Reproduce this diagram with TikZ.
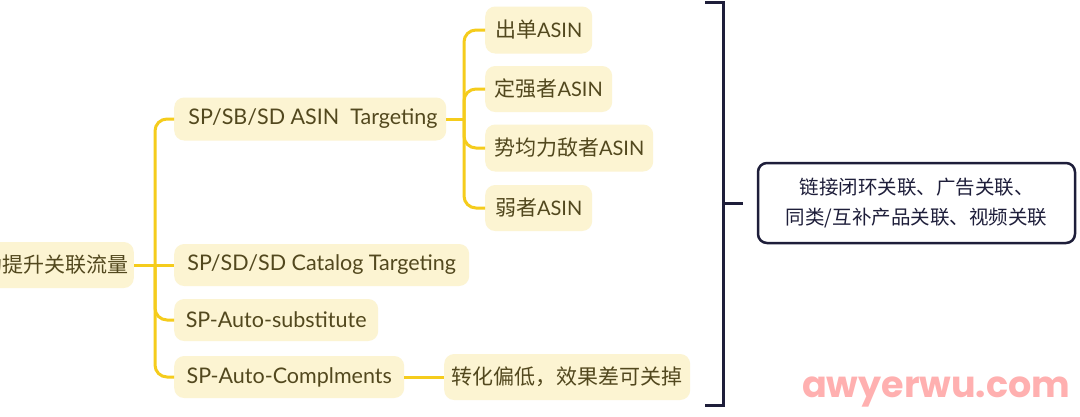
\documentclass[tikz,border=0pt]{standalone}
\usepackage{fontspec}
\setmainfont{Lato}
\newfontfamily\cjk{Noto Sans CJK SC}
\newfontfamily\wmfont{Poppins}
\usetikzlibrary{calc}
\definecolor{nodefill}{RGB}{252,244,210}
\definecolor{linegold}{RGB}{245,204,28}
\definecolor{txtolive}{RGB}{82,72,30}
\definecolor{navy}{RGB}{30,30,58}
\definecolor{wmpink}{RGB}{255,176,176}
\tikzset{
  ynode/.style={fill=nodefill, rounded corners=10pt, text=txtolive, inner sep=0pt, font=\fontsize{20}{24}\selectfont},
  lnode/.style={ynode, font=\fontsize{21.5}{24}\selectfont},
  conn/.style={draw=linegold, line width=3pt, rounded corners=12pt},
  bracketline/.style={draw=navy, line width=3pt},
  sumbox/.style={draw=navy, line width=2.5pt, rounded corners=9pt, fill=white, text=navy, align=center, inner sep=0pt, font=\cjk\fontsize{19.5}{30}\selectfont}
}
\begin{document}
\begin{tikzpicture}[x=1pt,y=-1pt]
\useasboundingbox[fill=white] (0,0) rectangle (1080,416);

% root (partly off the left edge)
\node[ynode, anchor=east, minimum width=180pt, minimum height=46pt, text width=170pt, align=right] (root) at (134,265) {\cjk\fontsize{21}{24}\selectfont 助提升关联流量};

% level 1
\node[lnode, anchor=west, minimum width=272pt, minimum height=43pt] (a1) at (174,119) {\ SP/SB/SD ASIN\ \ Targeting};
\node[lnode, anchor=west, minimum width=295pt, minimum height=42pt] (a2) at (174,265) {SP/SD/SD Catalog Targeting};
\node[lnode, anchor=west, minimum width=204pt, minimum height=42pt] (a3) at (174,320) {SP-Auto-substitute};
\node[lnode, anchor=west, minimum width=230pt, minimum height=42pt] (a4) at (174,377) {SP-Auto-Complments};
\node[ynode, anchor=west, minimum width=246pt, minimum height=46pt] (c1) at (444,377) {\cjk\fontsize{21}{24}\selectfont 转化偏低，效果差可关掉};

% level 2
\node[ynode, anchor=west, minimum width=107pt, minimum height=47pt] (b1) at (485,30) {{\cjk\fontsize{21}{24}\selectfont 出单}ASIN};
\node[ynode, anchor=west, minimum width=127pt, minimum height=46pt] (b2) at (485,89) {{\cjk\fontsize{21}{24}\selectfont 定强者}ASIN};
\node[ynode, anchor=west, minimum width=168pt, minimum height=47pt] (b3) at (485,148) {{\cjk\fontsize{21}{24}\selectfont 势均力敌者}ASIN};
\node[ynode, anchor=west, minimum width=107pt, minimum height=46pt] (b4) at (485,208) {{\cjk\fontsize{21}{24}\selectfont 弱者}ASIN};

% summary box
\node[sumbox, minimum width=317pt, minimum height=80pt] (sum) at (916.5,203) {链接闭环关联、广告关联、\\同类/互补产品关联、视频关联};

% trunk coordinates
\coordinate (t1) at (155,265);
\coordinate (t2) at (464,119);

% level-1 connectors
\draw[conn] (a1.west) -- (a1.west -| t1) -- (a4.west -| t1) -- (a4.west);
\draw[conn, rounded corners=0pt] (root.east) -- (a2.west);
\draw[conn] (t1) |- (a3.west);
\draw[conn, rounded corners=0pt] (a4.east) -- (c1.west);

% level-2 connectors
\draw[conn, rounded corners=0pt] (a1.east) -- (t2);
\draw[conn] (b1.west) -- (b1.west -| t2) -- (b4.west -| t2) -- (b4.west);
\draw[conn] (t2) |- (b2.west);
\draw[conn] (t2) |- (b3.west);

% bracket
\coordinate (brtop) at (705,2.5);
\coordinate (brbot) at (705,405);
\coordinate (brtip) at (743,203);
\draw[bracketline] (brtop) -- (723,2.5) -- (723,405) -- (brbot);
\draw[bracketline] (723,203) -- (brtip);

% watermark
\node[anchor=base west, text=wmpink, inner sep=0pt, font=\wmfont\bfseries\fontsize{36.5}{36.5}\selectfont] (wm) at (802,397) {awyerwu.com};
\end{tikzpicture}
\end{document}
